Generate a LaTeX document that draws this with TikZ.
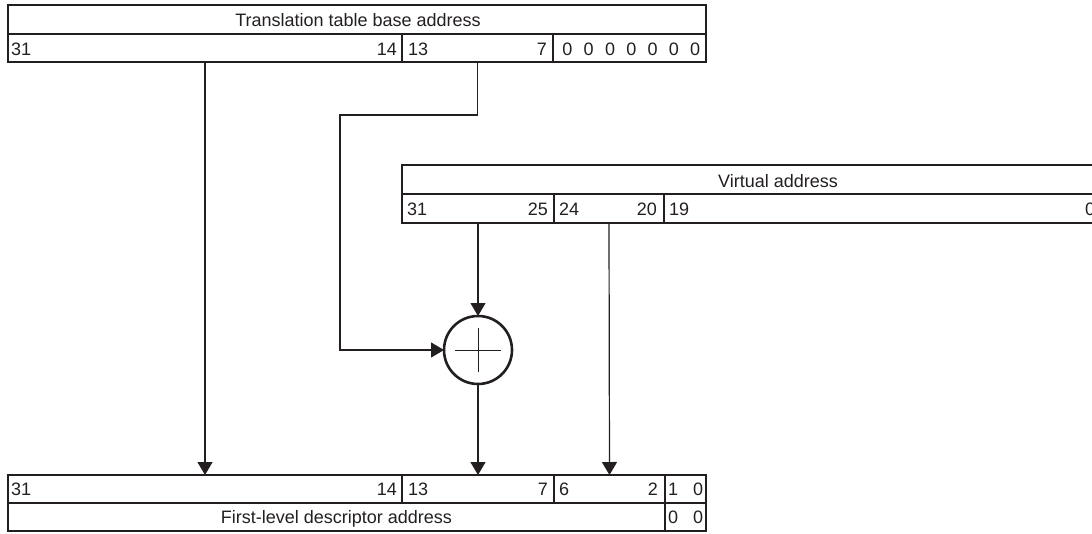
\documentclass[tikz,border=0pt]{standalone}
\usepackage{fontspec}
\setmainfont{Liberation Sans}
\usetikzlibrary{arrows.meta,fit}
\definecolor{ink}{RGB}{35,31,32}
\begin{document}
\begin{tikzpicture}[x=1pt,y=-1pt,
  every node/.style={font=\fontsize{18}{21}\selectfont, text=ink, inner sep=0pt, outer sep=0pt},
  fieldbox/.style={draw=ink, line width=1.2pt, inner sep=0pt, outer sep=0pt},
  framebox/.style={draw=ink, line width=2.4pt, inner sep=0pt, outer sep=0pt},
  conn/.style={draw=ink, line width=1.2pt, -{Triangle[width=15pt,length=13pt]}},
  lbl/.style={anchor=base west}, rlbl/.style={anchor=base east}, clbl/.style={anchor=base}]
\clip (0,0) rectangle (1092,533);

% ---------- Translation table base address ----------
\node[fieldbox, fit={(8,5) (706,34)}] (tT) {};
\node[fieldbox, fit={(8,34) (402,62)}] (tA) {};
\node[fieldbox, fit={(402,34) (553,62)}] (tB) {};
\node[fieldbox, fit={(553,34) (706,62)}] (tC) {};
\node[framebox, fit={(8,5) (706,62)}] (topbox) {};
\node[clbl] (ttl) at (358,26.5) {Translation table base address};
\node[lbl]  (t31) at (11,55) {31};
\node[rlbl] (t14) at (397,55) {14};
\node[lbl]  (t13) at (408,55) {13};
\node[rlbl] (t7)  at (547,55) {7};
\foreach \i in {0,...,6}{
  \node[clbl] (tz\i) at ({567.4+21.3*\i},55) {0};
}

% ---------- Virtual address ----------
\node[fieldbox, fit={(402,165) (1154,194)}] (vT) {};
\node[fieldbox, fit={(402,194) (554,223)}] (vA) {};
\node[fieldbox, fit={(554,194) (664,223)}] (vB) {};
\node[fieldbox, fit={(664,194) (1154,223)}] (vC) {};
\node[framebox, fit={(402,165) (1154,223)}] (vbox) {};
\node[clbl] (vtl) at (778,187) {Virtual address};
\node[lbl]  (v31) at (407,215) {31};
\node[rlbl] (v25) at (548,215) {25};
\node[lbl]  (v24) at (559,215) {24};
\node[rlbl] (v20) at (657,215) {20};
\node[lbl]  (v19) at (669,215) {19};
\node[lbl]  (v0)  at (1085,215) {0};

% ---------- First-level descriptor address ----------
\node[fieldbox, fit={(8,475) (402,503)}] (bA) {};
\node[fieldbox, fit={(402,475) (554,503)}] (bB) {};
\node[fieldbox, fit={(554,475) (665,503)}] (bC) {};
\node[fieldbox, fit={(665,475) (706,503)}] (bD) {};
\node[fieldbox, fit={(8,503) (665,531)}] (bT) {};
\node[fieldbox, fit={(665,503) (706,531)}] (bE) {};
\node[framebox, fit={(8,475) (706,531)}] (botbox) {};
\node[lbl]  (b31) at (11,495) {31};
\node[rlbl] (b14) at (397,495) {14};
\node[lbl]  (b13) at (408,495) {13};
\node[rlbl] (b7)  at (548,495) {7};
\node[lbl]  (b6)  at (559,495) {6};
\node[rlbl] (b2)  at (658,495) {2};
\node[clbl] (b1)  at (673,495) {1};
\node[clbl] (b0)  at (698,495) {0};
\node[clbl] (btl) at (336.5,523) {First-level descriptor address};
\node[clbl] (e1)  at (673,523) {0};
\node[clbl] (e0)  at (698,523) {0};

% ---------- adder ----------
\node[circle, draw=ink, line width=2.6pt, minimum size=68pt] (adder) at (478,350) {};
\draw[ink, line width=1pt] ([xshift=-23pt]adder.center) -- ([xshift=23pt]adder.center);
\draw[ink, line width=1pt] ([yshift=-22pt]adder.center) -- ([yshift=22pt]adder.center);

% ---------- connectors ----------
\coordinate (bendL) at (340,115);
\draw[conn] (tA.south) -- (bA.north);
\draw[conn] (tB.south) |- (bendL) |- (adder.west);
\draw[conn] (vA.south) -- (adder.north);
\draw[conn] (adder.south) -- (bB.north);
\draw[conn] (vB.south) -- (bC.north);
\end{tikzpicture}
\end{document}
